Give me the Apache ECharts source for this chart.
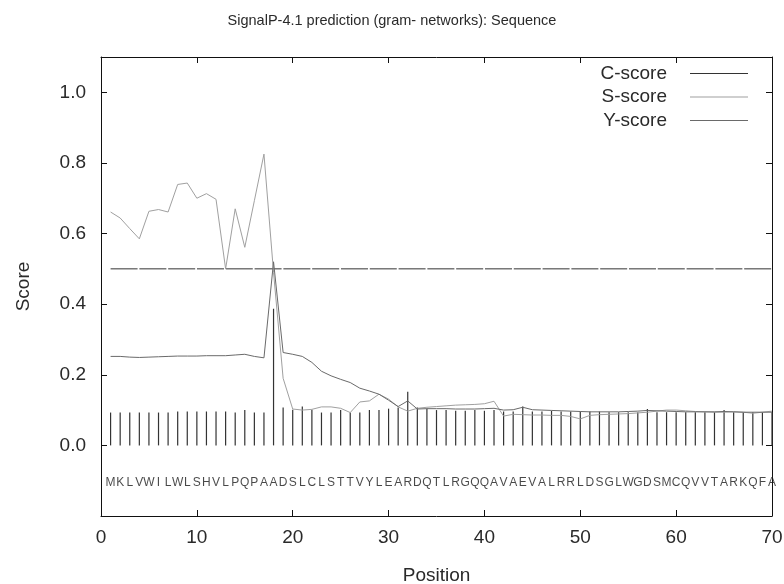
<!DOCTYPE html>
<html>
<head>
<meta charset="utf-8">
<script src="https://cdn.jsdelivr.net/npm/echarts@6/dist/echarts.min.js"></script>
<style>html,body{margin:0;padding:0;background:#fff;}#chart{width:784px;height:584px;}</style>
</head>
<body>
<div id="chart"></div>
<script>
// ---- data ----
var titleText = 'SignalP-4.1 prediction (gram- networks): Sequence';
var sequence = ['M','K','L','V','W','I','L','W','L','S','H','V','L','P','Q','P','A','A','D','S','L','C','L','S','T','T','V','Y','L','E','A','R','D','Q','T','L','R','G','Q','Q','A','V','A','E','V','A','L','R','R','L','D','S','G','L','W','G','D','S','M','C','Q','V','V','T','A','R','K','Q','F','A'];
var positions = [1,2,3,4,5,6,7,8,9,10,11,12,13,14,15,16,17,18,19,20,21,22,23,24,25,26,27,28,29,30,31,32,33,34,35,36,37,38,39,40,41,42,43,44,45,46,47,48,49,50,51,52,53,54,55,56,57,58,59,60,61,62,63,64,65,66,67,68,69,70];
var cScore = [0.093,0.093,0.093,0.093,0.093,0.093,0.093,0.096,0.096,0.096,0.096,0.096,0.096,0.093,0.100,0.093,0.093,0.387,0.107,0.101,0.110,0.101,0.093,0.093,0.100,0.093,0.093,0.100,0.100,0.104,0.107,0.152,0.107,0.104,0.100,0.100,0.098,0.098,0.100,0.098,0.100,0.096,0.096,0.110,0.096,0.096,0.098,0.096,0.096,0.096,0.096,0.096,0.094,0.094,0.094,0.094,0.103,0.094,0.094,0.094,0.094,0.094,0.094,0.094,0.100,0.094,0.094,0.094,0.094,0.094];
var sScore = [0.661,0.644,0.614,0.585,0.663,0.668,0.661,0.739,0.743,0.700,0.713,0.697,0.500,0.670,0.561,0.693,0.825,0.490,0.190,0.103,0.100,0.102,0.109,0.109,0.105,0.093,0.123,0.126,0.145,0.131,0.109,0.097,0.105,0.108,0.110,0.112,0.114,0.115,0.116,0.118,0.125,0.083,0.088,0.087,0.086,0.086,0.085,0.085,0.082,0.075,0.085,0.087,0.088,0.089,0.090,0.092,0.094,0.097,0.100,0.100,0.098,0.096,0.095,0.094,0.094,0.095,0.094,0.091,0.094,0.097];
var yScore = [0.252,0.252,0.250,0.249,0.250,0.251,0.252,0.253,0.253,0.253,0.254,0.254,0.254,0.256,0.258,0.252,0.248,0.520,0.263,0.258,0.252,0.235,0.210,0.197,0.187,0.178,0.162,0.154,0.145,0.128,0.110,0.126,0.103,0.104,0.104,0.104,0.103,0.103,0.103,0.104,0.105,0.100,0.101,0.108,0.101,0.100,0.099,0.098,0.097,0.096,0.095,0.095,0.095,0.095,0.096,0.097,0.099,0.098,0.097,0.096,0.095,0.095,0.095,0.095,0.096,0.095,0.094,0.094,0.094,0.094];
var cutoff = 0.5;
var cutoffRange = [1, 70];
var letterRow = -0.106;
var xTicks = [0, 70, 10];
var yTicks = [-0.2, 1.1, 0.2];

// ---- build ----
function pairs(xs, ys) { return xs.map(function (x, i) { return [x, ys[i]]; }); }
var FONT = "'Liberation Sans', Arial, sans-serif";
var TXT = '#2a2a2a';
var AX = '#111';

var chart = echarts.init(document.getElementById('chart'), null, {renderer: 'canvas'});
function axisCommon() {
  return {
    axisLine: {show: true, onZero: false, lineStyle: {color: AX, width: 1}},
    axisTick: {show: true, inside: true, length: 6, lineStyle: {color: AX, width: 1}},
    splitLine: {show: false}
  };
}
chart.setOption({
  animation: false,
  backgroundColor: '#fff',
  textStyle: {fontFamily: FONT},
  title: {
    text: titleText, left: 'center', top: 8,
    textStyle: {fontSize: 14.5, fontWeight: 'normal', color: TXT, fontFamily: FONT}
  },
  legend: {
    orient: 'vertical', right: 31, top: 59, align: 'right',
    itemWidth: 58, itemHeight: 1, itemGap: 4.5,
    textStyle: {fontSize: 19, color: TXT, fontFamily: FONT, padding: [0, 18, 0, 0]},
    data: [
      {name: 'C-score', icon: 'rect', itemStyle: {color: '#333'}},
      {name: 'S-score', icon: 'rect', itemStyle: {color: '#a0a0a0'}},
      {name: 'Y-score', icon: 'rect', itemStyle: {color: '#6a6a6a'}}
    ]
  },
  grid: {left: 101, right: 12, top: 57, bottom: 68, containLabel: false, outerBoundsMode: 'none'},
  xAxis: [
    Object.assign({
      type: 'value', min: xTicks[0], max: xTicks[1], interval: xTicks[2], position: 'bottom',
      name: 'Position', nameLocation: 'middle', nameGap: 50,
      nameTextStyle: {fontSize: 19, color: TXT, fontFamily: FONT},
      axisLabel: {fontSize: 19, color: TXT, margin: 12, fontFamily: FONT}
    }, axisCommon()),
    Object.assign({
      type: 'value', min: xTicks[0], max: xTicks[1], interval: xTicks[2], position: 'top',
      axisLabel: {show: false}
    }, axisCommon())
  ],
  yAxis: [
    Object.assign({
      type: 'value', min: yTicks[0], max: yTicks[1], interval: yTicks[2], position: 'left',
      name: 'Score', nameLocation: 'middle', nameGap: 68, nameRotate: 90,
      nameTextStyle: {fontSize: 19, color: TXT, fontFamily: FONT},
      axisLabel: {fontSize: 19, color: TXT, margin: 15, fontFamily: FONT,
        formatter: function (v) { return (v < -0.01 || v > 1.05) ? '' : v.toFixed(1); }}
    }, axisCommon()),
    Object.assign({
      type: 'value', min: yTicks[0], max: yTicks[1], interval: yTicks[2], position: 'right',
      axisLabel: {show: false}
    }, axisCommon())
  ],
  series: [
    {
      name: 'C-score', type: 'bar', xAxisIndex: 0, yAxisIndex: 0,
      data: pairs(positions, cScore), barWidth: 1.2,
      itemStyle: {color: '#333'}, z: 3
    },
    {
      name: 'S-score', type: 'line', xAxisIndex: 0, yAxisIndex: 0,
      data: pairs(positions, sScore), symbol: 'none',
      lineStyle: {color: '#a0a0a0', width: 1}, itemStyle: {color: '#a0a0a0'}, z: 4
    },
    {
      name: 'Y-score', type: 'line', xAxisIndex: 0, yAxisIndex: 0,
      data: pairs(positions, yScore), symbol: 'none',
      lineStyle: {color: '#6a6a6a', width: 1}, itemStyle: {color: '#6a6a6a'}, z: 4
    },
    {
      name: 'cutoff', type: 'line', xAxisIndex: 0, yAxisIndex: 0,
      data: [[cutoffRange[0], cutoff], [cutoffRange[1], cutoff]], symbol: 'none',
      lineStyle: {color: '#333', width: 1, type: [27, 1.8]}, z: 2, silent: true
    },
    {
      name: 'sequence', type: 'scatter', xAxisIndex: 0, yAxisIndex: 0,
      data: positions.map(function (p, i) { return [p, letterRow, sequence[i]]; }),
      symbolSize: 0, silent: true,
      label: {
        show: true, position: 'inside', color: '#1a1a1a', fontSize: 12, fontFamily: FONT,
        formatter: function (d) { return d.data[2]; }
      }
    }
  ]
});
</script>
</body>
</html>
